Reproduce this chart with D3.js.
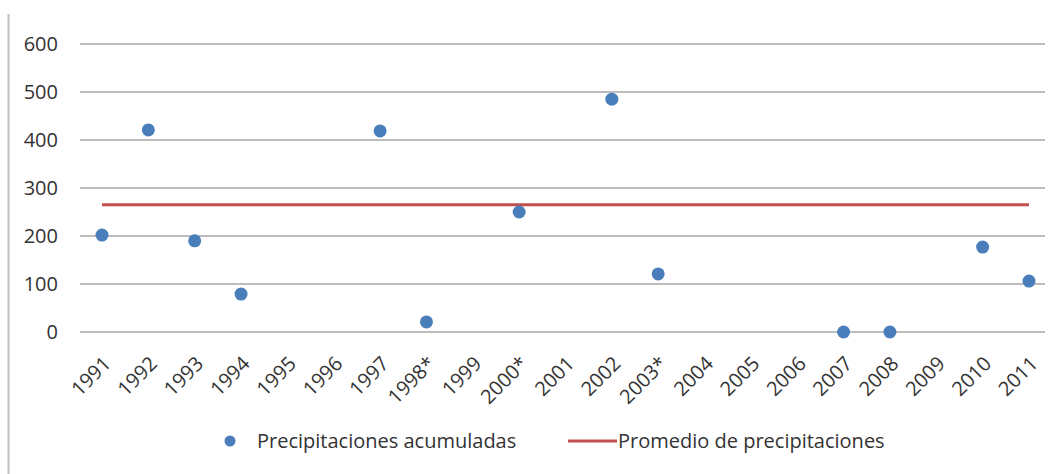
<!DOCTYPE html>
<html>
<head>
<meta charset="utf-8">
<script src="https://d3js.org/d3.v7.min.js"></script>
<style>
  body { margin: 0; background: #fff; font-family: "Open Sans", "Noto Sans", sans-serif; }
</style>
</head>
<body>
<div id="chart"></div>
<script>
// years on the x axis (asterisks as in the source)
var years = ["1991","1992","1993","1994","1995","1996","1997","1998*","1999","2000*",
             "2001","2002","2003*","2004","2005","2006","2007","2008","2009","2010","2011"];
// accumulated precipitation, null where no value is shown
var precip = [202, 421, 190, 79, null, null, 419, 21, null, 250,
              null, 485, 121, null, null, null, 0, 0, null, 177, 106];
var average = 265;
var yTicks = [0, 100, 200, 300, 400, 500, 600];

var W = 1064, H = 474;
var svg = d3.select("#chart").append("svg").attr("width", W).attr("height", H);

// left frame line
svg.append("line").attr("x1", 8.5).attr("x2", 8.5).attr("y1", 14).attr("y2", H)
    .attr("stroke", "#bfbfbf").attr("stroke-width", 2);

var x = d3.scalePoint().domain(years).range([102, 1029]);
var y = d3.scaleLinear().domain([0, 600]).range([332, 44]);

// gridlines
svg.append("g").selectAll("line").data(yTicks).enter().append("line")
    .attr("x1", 80).attr("x2", 1045)
    .attr("y1", function(d) { return y(d); }).attr("y2", function(d) { return y(d); })
    .attr("stroke", "#a6a6a6").attr("stroke-width", 1.3);

// y labels
svg.append("g").selectAll("text").data(yTicks).enter().append("text")
    .attr("x", 58).attr("y", function(d) { return y(d) + 7; })
    .attr("text-anchor", "end").attr("font-size", 20).attr("fill", "#333")
    .text(function(d) { return d; });

// x labels, rotated
svg.append("g").selectAll("text").data(years).enter().append("text")
    .attr("transform", function(d) { return "translate(" + (x(d) + 10) + ",365) rotate(-45)"; })
    .attr("text-anchor", "end").attr("font-size", 20).attr("fill", "#333")
    .text(function(d) { return d; });

// average line
svg.append("line")
    .attr("x1", x(years[0])).attr("x2", x(years[years.length - 1]))
    .attr("y1", y(average)).attr("y2", y(average))
    .attr("stroke", "#c0504d").attr("stroke-width", 3);

// points
var pts = years.map(function(d, i) { return {year: d, v: precip[i]}; })
    .filter(function(d) { return d.v !== null; });
svg.append("g").selectAll("circle").data(pts).enter().append("circle")
    .attr("cx", function(d) { return x(d.year); })
    .attr("cy", function(d) { return y(d.v); })
    .attr("r", 6.5).attr("fill", "#4a7ebb");

// legend
var lg = svg.append("g");
lg.append("circle").attr("cx", 230).attr("cy", 441).attr("r", 5.5).attr("fill", "#4a7ebb");
lg.append("text").attr("x", 257).attr("y", 448).attr("font-size", 20).attr("fill", "#333")
    .text("Precipitaciones acumuladas");
lg.append("line").attr("x1", 568).attr("x2", 617).attr("y1", 441).attr("y2", 441)
    .attr("stroke", "#c0504d").attr("stroke-width", 3);
lg.append("text").attr("x", 618).attr("y", 448).attr("font-size", 20).attr("fill", "#333")
    .text("Promedio de precipitaciones");
</script>
</body>
</html>
